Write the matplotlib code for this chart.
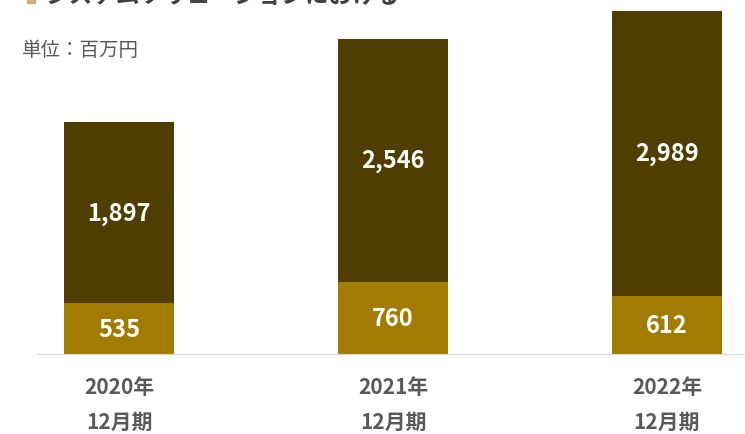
import matplotlib.pyplot as plt
from matplotlib.patches import Rectangle

plt.rcParams['font.family'] = ['Noto Sans CJK JP', 'DejaVu Sans']

# data
periods = ['2020年\n12月期', '2021年\n12月期', '2022年\n12月期']
lower = [535, 760, 612]
upper = [1897, 2546, 2989]

dark = '#503E00'
gold = '#A27C00'
gray = '#595959'

fig = plt.figure(figsize=(7.45, 4.35), dpi=100)
ax = fig.add_axes([37 / 745, 80 / 435, 1 - 37 / 745, (355 - 12) / 435])

x = range(len(periods))
width = 0.4
ax.bar(x, lower, width=width, color=gold)
ax.bar(x, upper, width=width, bottom=lower, color=dark)

for i in x:
    ax.text(i, lower[i] / 2, f'{lower[i]:,}', ha='center', va='center',
            color='white', fontsize=17, fontweight='bold')
    ax.text(i, lower[i] + upper[i] / 2, f'{upper[i]:,}', ha='center', va='center',
            color='white', fontsize=17, fontweight='bold')

ax.set_xlim(-0.3, 2.285)
ax.set_ylim(0, lower[2] + upper[2])
ax.set_xticks(list(x))
ax.set_xticklabels(periods, fontsize=15, fontweight='bold', color=gray, linespacing=1.8)
ax.tick_params(axis='x', length=0, pad=16)
ax.set_yticks([])
for s in ['top', 'right', 'left']:
    ax.spines[s].set_visible(False)
ax.spines['bottom'].set_color('#D9D9D9')

fig.text(22 / 745, 1 - 50 / 435, '単位：百万円', fontsize=14, color=gray,
         ha='left', va='center')

# legend entry that runs off the top edge (as in the reference)
fig.patches.append(Rectangle((27 / 745, 1 - 4 / 435), 8 / 745, 8 / 435,
                             transform=fig.transFigure, color='#C8B27A'))
fig.text(45 / 745, 1 + 4 / 435, 'システムソリューションにおける', fontsize=17,
         fontweight='bold', color='#404040', ha='left', va='center')

fig.savefig('out.png', dpi=100)
